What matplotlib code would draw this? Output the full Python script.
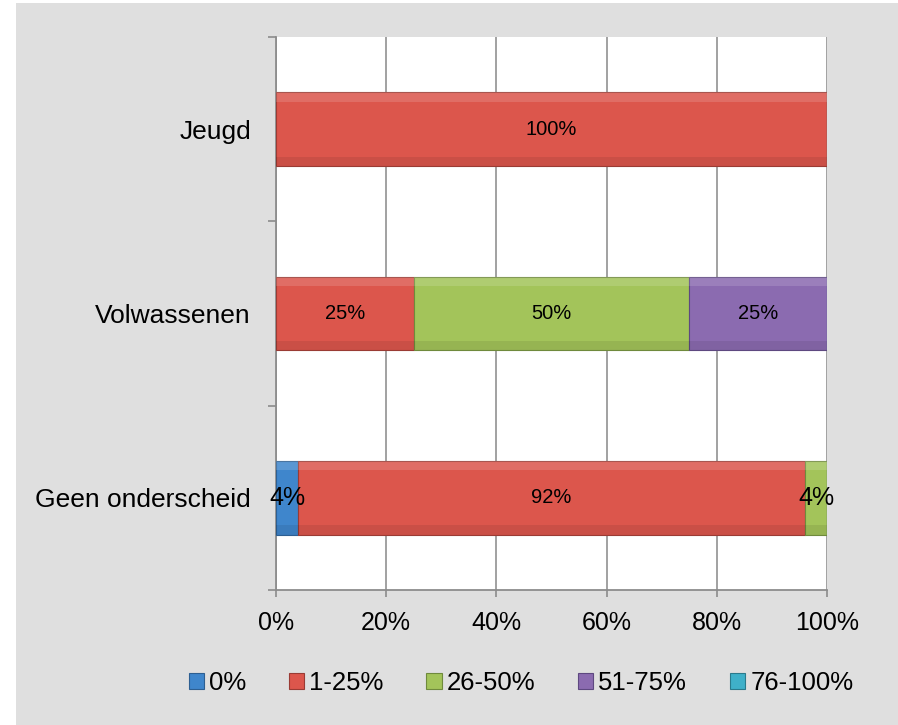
import numpy as np
import matplotlib.pyplot as plt
from matplotlib.patches import Rectangle

plt.rcParams['font.family'] = ['Liberation Sans', 'DejaVu Sans']

# Data
categories = ['Geen onderscheid', 'Volwassenen', 'Jeugd']
series_names = ['0%', '1-25%', '26-50%', '51-75%', '76-100%']
values = {
    '0%': [4, 0, 0],
    '1-25%': [92, 25, 100],
    '26-50%': [4, 50, 0],
    '51-75%': [0, 25, 0],
    '76-100%': [0, 0, 0],
}
colors = ['#3f86cc', '#dc564c', '#a3c45a', '#8b6bb0', '#3fb0c9']
edges = ['#2d5f92', '#9a3b34', '#6f8a3c', '#5e4880', '#2a7a8c']
xticks = [0, 20, 40, 60, 80, 100]

fig = plt.figure(figsize=(8.98, 7.25), dpi=100)
fig.patch.set_facecolor('white')
# grey chart background
fig.patches.append(Rectangle((16 / 898, 0), 1 - 16 / 898, 1 - 3 / 725,
                             transform=fig.transFigure, facecolor='#dfdfdf',
                             edgecolor='none', zorder=-10))

ax = fig.add_axes([276 / 898, 1 - 590 / 725, (827 - 276) / 898, (590 - 37) / 725])
ax.set_facecolor('white')

y = np.arange(len(categories))
left = np.zeros(len(categories))
handles = []
for i, name in enumerate(series_names):
    vals = np.array(values[name], dtype=float)
    b = ax.barh(y, vals, left=left, height=0.4, color=colors[i],
                edgecolor=edges[i], linewidth=0.8, zorder=3, label=name)
    # light/dark strips for a bevel look
    ax.barh(y + 0.175, vals, left=left, height=0.05, color='white',
            alpha=0.14, linewidth=0, zorder=4)
    ax.barh(y - 0.175, vals, left=left, height=0.05, color='black',
            alpha=0.08, linewidth=0, zorder=4)
    handles.append(b)
    for j, v in enumerate(vals):
        if v > 0:
            fs = 18 if v < 5 else 14.5
            ax.text(left[j] + v / 2, y[j], f'{int(v)}%', ha='center',
                    va='center', fontsize=fs, color='black', zorder=5)
    left += vals

ax.set_xlim(0, 100)
ax.set_ylim(-0.5, 2.5)
ax.set_xticks(xticks)
ax.set_xticklabels([f'{t}%' for t in xticks], fontsize=18)
ax.set_yticks(y)
ax.set_yticklabels(categories, fontsize=19)
ax.set_yticks([-0.5, 0.5, 1.5, 2.5], minor=True)
ax.tick_params(axis='y', which='major', length=0, pad=18)
ax.tick_params(axis='y', which='minor', length=6, color='#8c8c8c', width=1.2)
ax.tick_params(axis='x', length=5, color='#8c8c8c', width=1.2, pad=10)

ax.grid(axis='x', color='#9a9a9a', linewidth=1.3, zorder=0)
ax.set_axisbelow(True)
for s in ['top', 'right']:
    ax.spines[s].set_visible(False)
for s in ['left', 'bottom']:
    ax.spines[s].set_color('#8c8c8c')
    ax.spines[s].set_linewidth(1.3)

fig.legend(handles=handles, labels=series_names, loc='center',
           bbox_to_anchor=(521 / 898, 1 - 683 / 725), ncol=5, frameon=False,
           fontsize=18.5, handlelength=0.6, handleheight=0.6,
           handletextpad=0.2, columnspacing=1.65)

fig.savefig('out.png', dpi=100)
